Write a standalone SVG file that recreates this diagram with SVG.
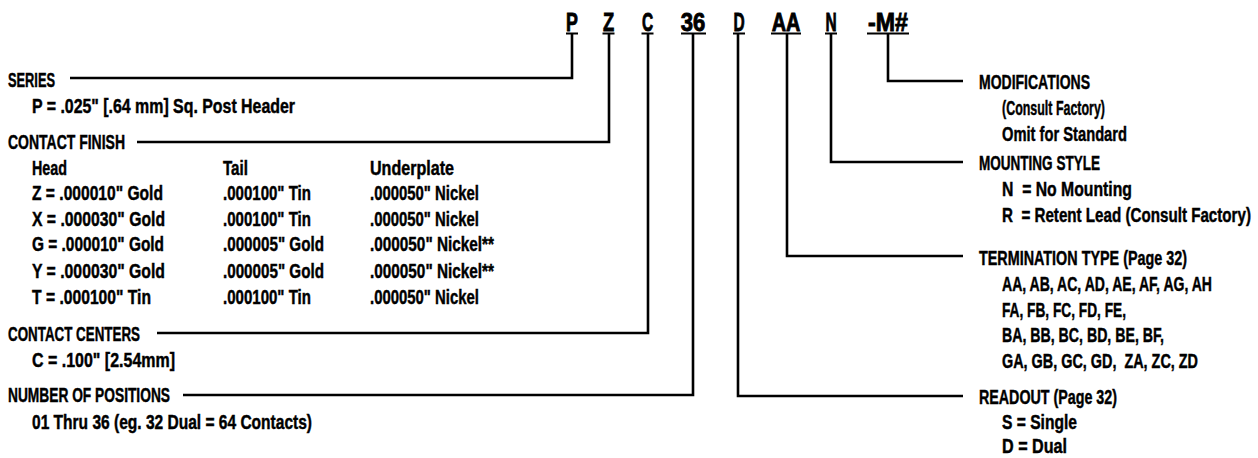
<svg xmlns="http://www.w3.org/2000/svg" width="1258" height="458" viewBox="0 0 1258 458">
<style>
text{font-family:"Liberation Sans","Arial",sans-serif;font-weight:bold;fill:#000;stroke:#000;stroke-width:0.45;}
.t{font-size:20px;}
.code{font-size:26px;stroke-width:0.9;}
.conn{fill:none;stroke:#000;stroke-width:2.6;stroke-linejoin:miter;stroke-linecap:butt;}
.ul{stroke:#000;stroke-width:2;}
</style>
<rect width="1258" height="458" fill="#fff"/>
<g id="code">
<g id="code-P"><g transform="scale(0.7 1)"><text class="code" x="817.14" y="31" text-anchor="middle" textLength="17" lengthAdjust="spacingAndGlyphs">P</text></g><line class="ul" x1="566" y1="33.5" x2="578" y2="33.5"/></g>
<g id="code-Z"><g transform="scale(0.7 1)"><text class="code" x="869.29" y="31" text-anchor="middle" textLength="16" lengthAdjust="spacingAndGlyphs">Z</text></g><line class="ul" x1="602.5" y1="33.5" x2="614.5" y2="33.5"/></g>
<g id="code-C"><g transform="scale(0.7 1)"><text class="code" x="925" y="31" text-anchor="middle" textLength="16" lengthAdjust="spacingAndGlyphs">C</text></g><line class="ul" x1="641.5" y1="33.5" x2="653.5" y2="33.5"/></g>
<g id="code-36"><g transform="scale(0.7 1)"><text class="code" x="990" y="31" text-anchor="middle" textLength="35" lengthAdjust="spacingAndGlyphs">36</text></g><line class="ul" x1="681" y1="33.5" x2="706" y2="33.5"/></g>
<g id="code-D"><g transform="scale(0.7 1)"><text class="code" x="1055.71" y="31" text-anchor="middle" textLength="16" lengthAdjust="spacingAndGlyphs">D</text></g><line class="ul" x1="733" y1="33.5" x2="745" y2="33.5"/></g>
<g id="code-AA"><g transform="scale(0.7 1)"><text class="code" x="1122.86" y="31" text-anchor="middle" textLength="41" lengthAdjust="spacingAndGlyphs">AA</text></g><line class="ul" x1="771" y1="33.5" x2="801" y2="33.5"/></g>
<g id="code-N"><g transform="scale(0.7 1)"><text class="code" x="1187.14" y="31" text-anchor="middle" textLength="16" lengthAdjust="spacingAndGlyphs">N</text></g><line class="ul" x1="825" y1="33.5" x2="837" y2="33.5"/></g>
<g id="code-M"><g transform="scale(0.7 1)"><text class="code" x="1268.57" y="31" text-anchor="middle" textLength="57" lengthAdjust="spacingAndGlyphs">-M#</text></g><line class="ul" x1="867" y1="33.5" x2="909" y2="33.5"/></g>
</g>
<g id="connectors">
<path class="conn" d="M70 78 H572 V34"/>
<path class="conn" d="M137 142 H609 V34"/>
<path class="conn" d="M157 333 H648 V34"/>
<path class="conn" d="M183 395 H693 V34"/>
<path class="conn" d="M963 396 H738 V34"/>
<path class="conn" d="M963 256 H787 V34"/>
<path class="conn" d="M963 162 H831 V34"/>
<path class="conn" d="M963 81 H888 V34"/>
</g>
<g id="series"><g transform="scale(0.7 1)">
<text class="t" x="11.43" y="87" textLength="67.14" lengthAdjust="spacingAndGlyphs">SERIES</text>
<text class="t" x="45.71" y="113" textLength="375.71" lengthAdjust="spacingAndGlyphs">P = .025" [.64 mm] Sq. Post Header</text>
</g></g>
<g id="contact-finish"><g transform="scale(0.7 1)">
<text class="t" x="11.43" y="149" textLength="167.14" lengthAdjust="spacingAndGlyphs">CONTACT FINISH</text>
<text class="t" x="45.71" y="175" textLength="50" lengthAdjust="spacingAndGlyphs">Head</text>
<text class="t" x="318.57" y="175" textLength="35.71" lengthAdjust="spacingAndGlyphs">Tail</text>
<text class="t" x="528.57" y="175" textLength="120" lengthAdjust="spacingAndGlyphs">Underplate</text>
<text class="t" x="45.71" y="200" textLength="187.14" lengthAdjust="spacingAndGlyphs">Z = .000010" Gold</text>
<text class="t" x="318.57" y="200" textLength="125.71" lengthAdjust="spacingAndGlyphs">.000100" Tin</text>
<text class="t" x="528.57" y="200" textLength="155.71" lengthAdjust="spacingAndGlyphs">.000050" Nickel</text>
<text class="t" x="45.71" y="226" textLength="190" lengthAdjust="spacingAndGlyphs">X = .000030" Gold</text>
<text class="t" x="318.57" y="226" textLength="125.71" lengthAdjust="spacingAndGlyphs">.000100" Tin</text>
<text class="t" x="528.57" y="226" textLength="155.71" lengthAdjust="spacingAndGlyphs">.000050" Nickel</text>
<text class="t" x="45.71" y="251" textLength="188.57" lengthAdjust="spacingAndGlyphs">G = .000010" Gold</text>
<text class="t" x="318.57" y="251" textLength="144.29" lengthAdjust="spacingAndGlyphs">.000005" Gold</text>
<text class="t" x="528.57" y="251" textLength="177.14" lengthAdjust="spacingAndGlyphs">.000050" Nickel**</text>
<text class="t" x="45.71" y="278" textLength="190" lengthAdjust="spacingAndGlyphs">Y = .000030" Gold</text>
<text class="t" x="318.57" y="278" textLength="144.29" lengthAdjust="spacingAndGlyphs">.000005" Gold</text>
<text class="t" x="528.57" y="278" textLength="177.14" lengthAdjust="spacingAndGlyphs">.000050" Nickel**</text>
<text class="t" x="45.71" y="304" textLength="170" lengthAdjust="spacingAndGlyphs">T = .000100" Tin</text>
<text class="t" x="318.57" y="304" textLength="125.71" lengthAdjust="spacingAndGlyphs">.000100" Tin</text>
<text class="t" x="528.57" y="304" textLength="155.71" lengthAdjust="spacingAndGlyphs">.000050" Nickel</text>
</g></g>
<g id="contact-centers"><g transform="scale(0.7 1)">
<text class="t" x="11.43" y="341" textLength="188.57" lengthAdjust="spacingAndGlyphs">CONTACT CENTERS</text>
<text class="t" x="45.71" y="367" textLength="204.29" lengthAdjust="spacingAndGlyphs">C = .100" [2.54mm]</text>
</g></g>
<g id="number-of-positions"><g transform="scale(0.7 1)">
<text class="t" x="11.43" y="402" textLength="231.43" lengthAdjust="spacingAndGlyphs">NUMBER OF POSITIONS</text>
<text class="t" x="45.71" y="429" textLength="400" lengthAdjust="spacingAndGlyphs">01 Thru 36 (eg. 32 Dual = 64 Contacts)</text>
</g></g>
<g id="modifications"><g transform="scale(0.7 1)">
<text class="t" x="1398.57" y="89" textLength="158.57" lengthAdjust="spacingAndGlyphs">MODIFICATIONS</text>
<text class="t" x="1431.43" y="115" textLength="147.14" lengthAdjust="spacingAndGlyphs">(Consult Factory)</text>
<text class="t" x="1431.43" y="141" textLength="178.57" lengthAdjust="spacingAndGlyphs">Omit for Standard</text>
</g></g>
<g id="mounting-style"><g transform="scale(0.7 1)">
<text class="t" x="1398.57" y="170" textLength="172.86" lengthAdjust="spacingAndGlyphs">MOUNTING STYLE</text>
<text class="t" x="1431.43" y="196" textLength="185.71" lengthAdjust="spacingAndGlyphs" xml:space="preserve">N  = No Mounting</text>
<text class="t" x="1431.43" y="222" textLength="355.71" lengthAdjust="spacingAndGlyphs" xml:space="preserve">R  = Retent Lead (Consult Factory)</text>
</g></g>
<g id="termination-type"><g transform="scale(0.7 1)">
<text class="t" x="1398.57" y="265" textLength="297.14" lengthAdjust="spacingAndGlyphs">TERMINATION TYPE (Page 32)</text>
<text class="t" x="1431.43" y="291" textLength="300" lengthAdjust="spacingAndGlyphs">AA, AB, AC, AD, AE, AF, AG, AH</text>
<text class="t" x="1431.43" y="317" textLength="177.14" lengthAdjust="spacingAndGlyphs">FA, FB, FC, FD, FE,</text>
<text class="t" x="1431.43" y="342" textLength="231.43" lengthAdjust="spacingAndGlyphs">BA, BB, BC, BD, BE, BF,</text>
<text class="t" x="1431.43" y="368" textLength="280" lengthAdjust="spacingAndGlyphs" xml:space="preserve">GA, GB, GC, GD,  ZA, ZC, ZD</text>
</g></g>
<g id="readout"><g transform="scale(0.7 1)">
<text class="t" x="1398.57" y="404" textLength="197.14" lengthAdjust="spacingAndGlyphs">READOUT (Page 32)</text>
<text class="t" x="1431.43" y="429" textLength="107.14" lengthAdjust="spacingAndGlyphs">S = Single</text>
<text class="t" x="1431.43" y="453" textLength="92.86" lengthAdjust="spacingAndGlyphs">D = Dual</text>
</g></g>
</svg>
